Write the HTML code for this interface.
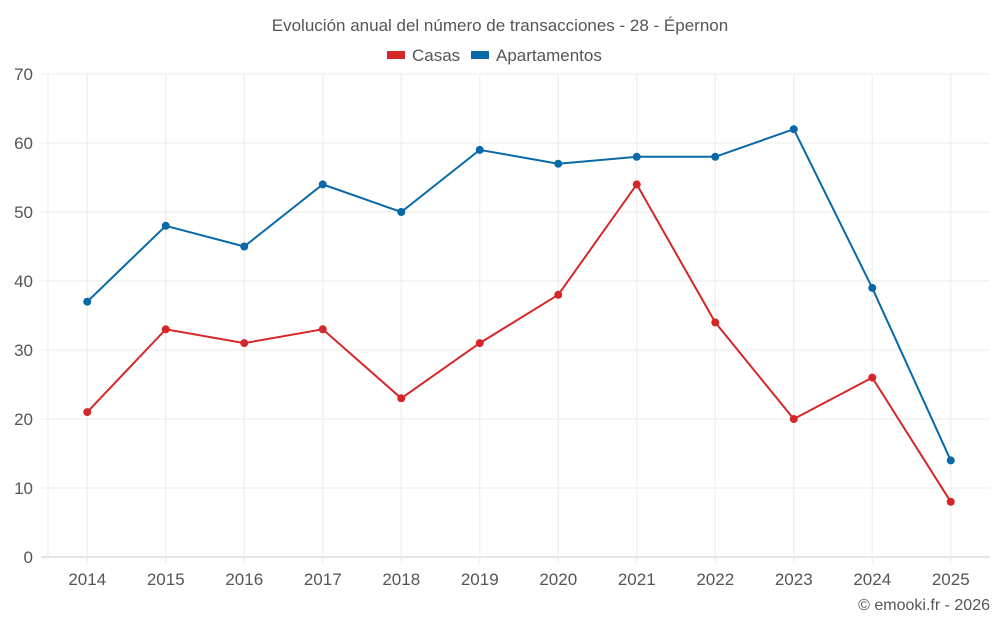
<!DOCTYPE html>
<html><head><meta charset="utf-8"><style>
body{margin:0;background:#fff;}
svg text{font-family:"Liberation Sans",sans-serif;}
</style></head><body>
<svg id="chart" width="1000" height="625">
<text x="500" y="31" text-anchor="middle" font-size="17" fill="#555">Evolución anual del número de transacciones - 28 - Épernon</text>
<g>
<rect x="387" y="51" width="18" height="8" fill="#d62728"/>
<text x="412" y="61" font-size="17" fill="#555">Casas</text>
<rect x="471" y="51" width="18" height="8" fill="#0868a8"/>
<text x="496" y="61" font-size="17" fill="#555">Apartamentos</text>
</g>
<g id="grid"></g><g id="axes"></g><g id="series"></g>
<text x="990" y="610" text-anchor="end" font-size="16" fill="#555">© emooki.fr - 2026</text>
</svg>
<script>
const categories=["2014","2015","2016","2017","2018","2019","2020","2021","2022","2023","2024","2025"];
const casas=[21,33,31,33,23,31,38,54,34,20,26,8];
const apartamentos=[37,48,45,54,50,59,57,58,58,62,39,14];
const yTicks=[0,10,20,30,40,50,60,70];
const NS="http://www.w3.org/2000/svg";
const L=48,R=990,T=74,B=557,yMax=70;
const bw=(R-L)/categories.length;
const x=i=>L+bw*(i+0.5);
const y=v=>B-(v/yMax)*(B-T);
function mk(t,a,p){const e=document.createElementNS(NS,t);for(const k in a)e.setAttribute(k,a[k]);p.appendChild(e);return e;}
const grid=document.getElementById('grid'),axes=document.getElementById('axes'),ser=document.getElementById('series');
yTicks.forEach(v=>{
 const l=mk('line',{x1:41,x2:R,y1:y(v),y2:y(v),stroke:v===0?'#ccc':'#ebebeb','stroke-width':1},grid);
 
 
 const t=mk('text',{x:33,y:y(v)+6,'text-anchor':'end','font-size':17,fill:'#555'},axes);
 t.textContent=v;
 
 
});
const ax=mk('line',{x1:L,x2:L,y1:T,y2:B,stroke:'#ebebeb'},grid);


categories.forEach((c,i)=>{
 const l=mk('line',{x1:x(i),x2:x(i),y1:T,y2:B+6,stroke:'#ebebeb'},grid);
 
 
 const t=mk('text',{x:x(i),y:585,'text-anchor':'middle','font-size':17,fill:'#555'},axes);
 t.textContent=c;
 
 
});
function draw(data,color,name){
 const p=mk('polyline',{points:data.map((v,i)=>x(i)+','+y(v)).join(' '),fill:'none',stroke:color,'stroke-width':2},ser);
 
 
 data.forEach((v,i)=>{
  const c=mk('circle',{cx:x(i),cy:y(v),r:4,fill:color},ser);
  
  
 });
}
draw(apartamentos,'#0868a8','apartamentos');
draw(casas,'#d62728','casas');
</script>
</body></html>
